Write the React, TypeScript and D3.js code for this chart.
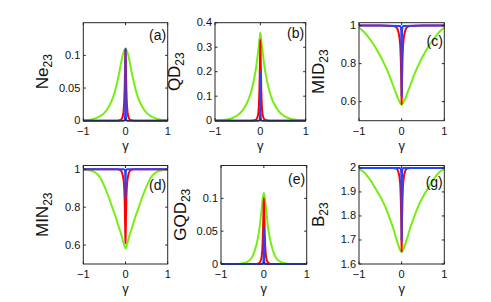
import * as d3 from "d3";
import React from "react";

// sample points on the gamma axis (right half, curves are mirrored)
const gWide = [0, 0.025, 0.05, 0.1, 0.15, 0.2, 0.25, 0.3, 0.4, 0.5, 0.6, 0.7, 0.8, 0.9, 1];
const gRed = [0, 0.005, 0.01, 0.02, 0.03, 0.05, 0.08, 0.12, 0.2, 0.5, 1];
const gBlue = [0, 0.003, 0.006, 0.01, 0.02, 0.04, 0.5, 1];

// green curves
const neGreen = [0.110, 0.108, 0.104, 0.090, 0.073, 0.058, 0.045, 0.035, 0.021, 0.012, 0.007, 0.004, 0.002, 0.001, 0.0005];
const qdGreen = [0.36, 0.32, 0.28, 0.21, 0.16, 0.12, 0.092, 0.07, 0.04, 0.022, 0.012, 0.006, 0.003, 0.0015, 0.001];
const midGreen = [0.585, 0.59, 0.6, 0.625, 0.655, 0.685, 0.715, 0.745, 0.795, 0.84, 0.88, 0.915, 0.945, 0.97, 0.99];
const minGreen = [0.582, 0.595, 0.615, 0.655, 0.69, 0.725, 0.76, 0.79, 0.855, 0.91, 0.955, 0.98, 0.992, 0.997, 0.999];
const gqdGreen = [0.108, 0.1, 0.085, 0.055, 0.036, 0.023, 0.014, 0.008, 0.003, 0.001, 0, 0, 0, 0, 0];
const bGreen = [1.65, 1.655, 1.665, 1.69, 1.72, 1.75, 1.775, 1.8, 1.845, 1.88, 1.91, 1.94, 1.965, 1.985, 1.995];

// red curves
const neRed = [0.11, 0.1, 0.08, 0.05, 0.03, 0.012, 0.004, 0.001, 0, 0, 0];
const qdRed = [0.33, 0.28, 0.22, 0.13, 0.07, 0.025, 0.008, 0.002, 0, 0, 0];
const midRed = [0.585, 0.65, 0.72, 0.82, 0.88, 0.935, 0.97, 0.99, 0.998, 1, 1];
const minRed = [0.61, 0.66, 0.73, 0.84, 0.9, 0.95, 0.98, 0.995, 1, 1, 1];
const gqdRed = [0.1, 0.09, 0.075, 0.05, 0.03, 0.012, 0.004, 0.001, 0, 0, 0];
const bRed = [1.65, 1.72, 1.79, 1.87, 1.92, 1.96, 1.985, 1.997, 2, 2, 2];

// blue curves
const neBlue = [0.11, 0.06, 0.02, 0.006, 0.001, 0, 0, 0];
const qdBlue = [0.2, 0.1, 0.03, 0.01, 0.002, 0, 0, 0];
const midBlue = [0.63, 0.8, 0.92, 0.97, 0.99, 0.998, 1, 1];
const minBlue = [0.85, 0.93, 0.97, 0.99, 0.998, 1, 1, 1];
const gqdBlue = [0.055, 0.03, 0.012, 0.004, 0.001, 0, 0, 0];
const bBlue = [1.7, 1.85, 1.94, 1.98, 1.995, 2, 2, 2];

const xTicks = [-1, 0, 1];
const xTickLabels = ["\u22121", "0", "1"];

const panels = [
  { name: "Ne", tag: "(a)", box: [83.3, 167.7, 22.7, 120.7], dom: [0, 0.15], ticks: [0, 0.05, 0.1], fmt: ["0", "0.05", "0.1"], green: neGreen, red: neRed, blue: neBlue, tagY: 17 },
  { name: "QD", tag: "(b)", box: [215, 305.7, 22.7, 120.7], dom: [0, 0.4], ticks: [0, 0.1, 0.2, 0.3, 0.4], fmt: ["0", "0.1", "0.2", "0.3", "0.4"], green: qdGreen, red: qdRed, blue: qdBlue, tagY: 15 },
  { name: "MID", tag: "(c)", box: [359, 444.3, 22.7, 120.7], dom: [0.5, 1.015], ticks: [0.6, 0.8, 1], fmt: ["0.6", "0.8", "1"], green: midGreen, red: midRed, blue: midBlue, tagY: 23 },
  { name: "MIN", tag: "(d)", box: [83.3, 167.7, 165.5, 264], dom: [0.5, 1.02], ticks: [0.6, 0.8, 1], fmt: ["0.6", "0.8", "1"], green: minGreen, red: minRed, blue: minBlue, tagY: 24 },
  { name: "GQD", tag: "(e)", box: [221, 306.7, 165.5, 264], dom: [0, 0.15], ticks: [0, 0.05, 0.1], fmt: ["0", "0.05", "0.1"], green: gqdGreen, red: gqdRed, blue: gqdBlue, tagY: 18.5 },
  { name: "B", tag: "(g)", box: [359, 444.3, 165.5, 264], dom: [1.6, 2.01], ticks: [1.6, 1.7, 1.8, 1.9, 2], fmt: ["1.6", "1.7", "1.8", "1.9", "2"], green: bGreen, red: bRed, blue: bBlue, tagY: 21.5 },
];

const mirror = (gs: number[], vs: number[]) => {
  const pts: [number, number][] = [];
  for (let i = gs.length - 1; i > 0; i--) pts.push([-gs[i], vs[i]]);
  for (let i = 0; i < gs.length; i++) pts.push([gs[i], vs[i]]);
  return pts;
};

const font = "'Liberation Sans', Arial, Helvetica, sans-serif";

const Panel = ({ p }: { p: any }) => {
  const [l, r, t, b] = p.box;
  const x = d3.scaleLinear([-1, 1], [l, r]);
  const y = d3.scaleLinear(p.dom, [b, t]);
  const line = d3
    .line<[number, number]>()
    .x((d) => x(d[0]))
    .y((d) => y(d[1]))
    .curve(d3.curveMonotoneX);
  const series = [
    { c: "#77ee11", d: mirror(gWide, p.green) },
    { c: "#ff0000", d: mirror(gRed, p.red) },
    { c: "#2244ff", d: mirror(gBlue, p.blue) },
  ];
  const cy = (t + b) / 2;
  return (
    <g fontFamily={font}>
      {series.map((s, i) => (
        <path key={i} d={line(s.d) || ""} fill="none" stroke={s.c} strokeWidth={2} />
      ))}
      <rect x={l} y={t} width={r - l} height={b - t} fill="none" stroke="#262626" strokeWidth={1} />
      {xTicks.map((v) => (
        <g key={"x" + v}>
          <line x1={x(v)} x2={x(v)} y1={b} y2={b - 2.5} stroke="#262626" />
          <line x1={x(v)} x2={x(v)} y1={t} y2={t + 2.5} stroke="#262626" />
        </g>
      ))}
      {p.ticks.map((v: number) => (
        <g key={"y" + v}>
          <line x1={l} x2={l + 2.5} y1={y(v)} y2={y(v)} stroke="#262626" />
          <line x1={r} x2={r - 2.5} y1={y(v)} y2={y(v)} stroke="#262626" />
        </g>
      ))}
      {p.ticks.map((v: number, i: number) => (
        <text key={"yl" + v} x={l - 3} y={y(v) + 3.5} fontSize={11} textAnchor="end" fill="#111">
          {p.fmt[i]}
        </text>
      ))}
      {xTicks.map((v, i) => (
        <text key={"xl" + v} x={x(v)} y={b + 14} fontSize={11} textAnchor="middle" fill="#111">
          {xTickLabels[i]}
        </text>
      ))}
      <text x={x(0)} y={b + 29} fontSize={13} textAnchor="middle" fill="#111">
        γ
      </text>
      <text
        transform={`translate(${l - 35},${cy}) rotate(-90)`}
        fontSize={17}
        textAnchor="middle"
        fill="#111"
      >
        {p.name}
        <tspan fontSize={12} dy={4}>23</tspan>
      </text>
      <text x={r - 1.5} y={t + p.tagY} fontSize={14} textAnchor="end" fill="#111">
        {p.tag}
      </text>
    </g>
  );
};

export default function App() {
  return (
    <svg
      width={491}
      height={302}
      style={{ position: "absolute", left: 0, top: 0, background: "#fff" }}
    >
      {panels.map((p) => (
        <Panel key={p.tag} p={p} />
      ))}
    </svg>
  );
}
